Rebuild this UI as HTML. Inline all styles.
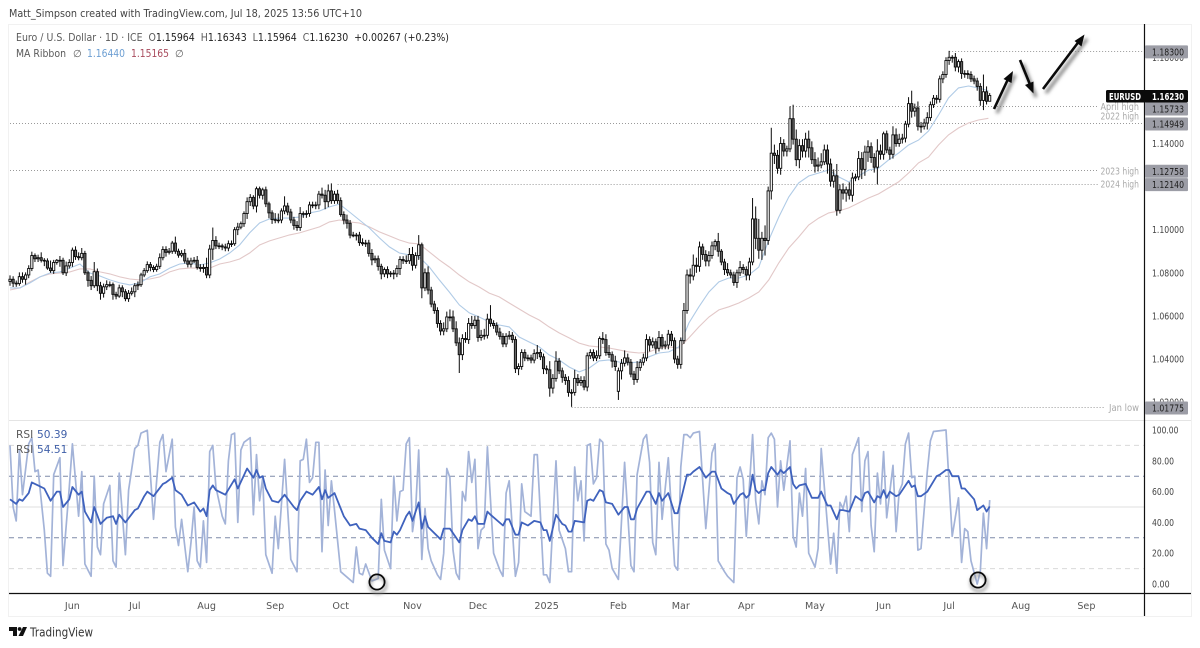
<!DOCTYPE html>
<html lang="en">
<head>
<meta charset="utf-8">
<title>EURUSD daily chart</title>
<style>
html,body{margin:0;padding:0;background:#fff;width:1200px;height:648px;overflow:hidden}
svg{display:block;filter:blur(.3px)}
text{font-family:"DejaVu Sans","Liberation Sans",sans-serif}
</style>
</head>
<body>
<svg id="chart" xmlns="http://www.w3.org/2000/svg" width="1200" height="648" viewBox="0 0 1200 648">
<defs>
<filter id="soft" x="-40%" y="-40%" width="180%" height="180%"><feGaussianBlur stdDeviation="1.8"/></filter>
</defs>
<text x="9" y="17" font-size="11" fill="#444" textLength="353" lengthAdjust="spacingAndGlyphs">Matt_Simpson created with TradingView.com, Jul 18, 2025 13:56 UTC+10</text>
<rect x="8.5" y="24.5" width="1183" height="592" fill="#fff" stroke="#f1f1f1"/>
<g id="rsi-grid"></g>
<g id="levels"></g>
<g id="ma"></g>
<g id="candles"></g>
<g id="rsi"></g>
<line x1="9" x2="1191" y1="420.5" y2="420.5" stroke="#e4e4e4"/>
<line x1="9" x2="1191" y1="593.5" y2="593.5" stroke="#111" stroke-width="1.2"/>
<line x1="1144.5" x2="1144.5" y1="24" y2="616" stroke="#111" stroke-width="1.2"/>
<g id="ticks"></g>
<g id="boxes"></g>
<g>
<rect x="1106" y="90" width="82" height="12.5" rx="1.5" fill="#0b0b0b"/>
<text x="1109" y="100" font-size="10" font-weight="bold" fill="#fff" textLength="32" lengthAdjust="spacingAndGlyphs">EURUSD</text>
<text x="1152" y="100" font-size="10" font-weight="bold" fill="#fff" textLength="32" lengthAdjust="spacingAndGlyphs">1.16230</text>
</g>
<g font-size="9.6" fill="#a9a9a9">
<text x="1100.5" y="110" textLength="38.5" lengthAdjust="spacingAndGlyphs">April high</text>
<text x="1100.5" y="119.5" textLength="38.5" lengthAdjust="spacingAndGlyphs">2022 high</text>
<text x="1100.5" y="174.5" textLength="38.5" lengthAdjust="spacingAndGlyphs">2023 high</text>
<text x="1100.5" y="187.5" textLength="38.5" lengthAdjust="spacingAndGlyphs">2024 high</text>
<text x="1109" y="411" textLength="30" lengthAdjust="spacingAndGlyphs">Jan low</text>
</g>
<g>
<text x="16" y="41" font-size="10.6" fill="#5a5a5a" textLength="433" lengthAdjust="spacingAndGlyphs" xml:space="preserve">Euro / U.S. Dollar · 1D · ICE  O<tspan fill="#222">1.15964</tspan>  H<tspan fill="#222">1.16343</tspan>  L<tspan fill="#222">1.15964</tspan>  C<tspan fill="#222">1.16230</tspan>  <tspan fill="#222">+0.00267 (+0.23%)</tspan></text>
<text x="16" y="57" font-size="10.6" fill="#5a5a5a" textLength="50" lengthAdjust="spacingAndGlyphs">MA Ribbon</text>
<text x="73" y="57" font-size="10" fill="#5a5a5a">∅</text>
<text x="87" y="57" font-size="10.6" fill="#6d9fd3" textLength="38" lengthAdjust="spacingAndGlyphs">1.16440</text>
<text x="131" y="57" font-size="10.6" fill="#a84a5c" textLength="38" lengthAdjust="spacingAndGlyphs">1.15165</text>
<text x="175" y="57" font-size="10" fill="#5a5a5a">∅</text>
</g>
<g>
<text x="16" y="438" font-size="10.6" fill="#5a5a5a">RSI</text>
<text x="37" y="438" font-size="10.6" fill="#3f5fa8">50.39</text>
<text x="16" y="453" font-size="10.6" fill="#5a5a5a">RSI</text>
<text x="37" y="453" font-size="10.6" fill="#3f5fa8">54.51</text>
</g>
<g>
<g filter="url(#soft)" transform="translate(3,4)" fill="none" stroke="#777" stroke-width="3">
<path d="M994 109L1012 71"/>
<path d="M1020 60L1033 93"/>
<path d="M1043 89L1084 35"/>
</g>
<path d="M994 109L1009 77" fill="none" stroke="#0a0a0a" stroke-width="2.6"/>
<path d="M1013 71L1011.5 83L1003.5 79Z" fill="#0a0a0a"/>
<path d="M1020 60L1031 87" fill="none" stroke="#0a0a0a" stroke-width="2.6"/>
<path d="M1033.5 93.5L1025 85L1033.5 81.5Z" fill="#0a0a0a"/>
<path d="M1043 89L1080 40" fill="none" stroke="#0a0a0a" stroke-width="2.6"/>
<path d="M1084.5 34.5L1081.5 46.5L1074.5 41Z" fill="#0a0a0a"/>
</g>
<g>
<circle cx="378" cy="585" r="8" fill="none" stroke="#888" stroke-width="2" filter="url(#soft)"/>
<circle cx="979" cy="583" r="8" fill="none" stroke="#888" stroke-width="2" filter="url(#soft)"/>
<circle cx="377" cy="582" r="7.6" fill="none" stroke="#0a0a0a" stroke-width="1.8"/>
<circle cx="978" cy="580" r="7.6" fill="none" stroke="#0a0a0a" stroke-width="1.8"/>
</g>
<g fill="#111">
<path d="M9 627H17V636H13V631H9Z"/>
<circle cx="19.6" cy="629" r="1.9"/>
<path d="M23 627H27L23 636H18.5Z"/>
<text x="30" y="636.5" font-size="12.5" fill="#333" textLength="63" lengthAdjust="spacingAndGlyphs">TradingView</text>
</g>
</svg>
<script>
// ---- Daily EURUSD closes, one block per month ----
const firstOpen = 1.0760;
const gapOpens = {195: 1.0250};
const closes = [
1.0770,1.0752,1.0750,1.0782,1.0770,1.0790,1.0820,1.0880,1.0865,1.0870,1.0858,1.0855,1.0822,1.0810,1.0848,1.0858,1.0858,1.0800,1.0832,1.0848,
1.0905,1.0875,1.0870,1.0890,1.0800,1.0765,1.0740,1.0805,1.0740,1.0705,1.0735,1.0745,1.0745,1.0700,1.0692,1.0730,1.0712,1.0680,1.0705,1.0712,
1.0740,1.0745,1.0790,1.0810,1.0838,1.0825,1.0815,1.0830,1.0870,1.0908,1.0895,1.0900,1.0938,1.0900,1.0882,1.0890,1.0855,1.0840,1.0855,1.0858,1.0825,1.0820,1.0825,
1.0790,1.0910,1.0950,1.0925,1.0925,1.0920,1.0915,1.0935,1.0935,1.1000,1.1012,1.1028,1.1075,1.1130,1.1150,1.1110,1.1190,1.1160,1.1185,1.1120,1.1078,1.1047,
1.1045,1.1045,1.1087,1.1110,1.1082,1.1045,1.1020,1.1010,1.1075,1.1075,1.1075,1.1115,1.1115,1.1115,1.1165,1.1160,1.1130,1.1180,1.1135,1.1165,1.1135,
1.1070,1.1045,1.1030,1.0975,1.0975,1.0975,1.0940,1.0935,1.0938,1.0890,1.0860,1.0865,1.0830,1.0795,1.0815,1.0795,1.0798,1.0795,1.0820,1.0862,1.0856,1.0856,1.0885,
1.0835,1.0880,1.0930,1.0730,1.0800,1.0720,1.0655,1.0625,1.0565,1.0530,1.0540,1.0595,1.0595,1.0540,1.0475,1.0420,1.0495,1.0490,1.0565,1.0555,1.0580,
1.0500,1.0510,1.0510,1.0585,1.0565,1.0555,1.0525,1.0505,1.0470,1.0505,1.0510,1.0490,1.0355,1.0365,1.0430,1.0405,1.0405,1.0395,1.0425,1.0430,1.0410,1.0355,
1.0350,1.0265,1.0310,1.0390,1.0345,1.0315,1.0300,1.0245,1.0245,1.0310,1.0290,1.0300,1.0270,1.0415,1.0430,1.0405,1.0415,1.0495,1.0490,1.0430,1.0420,1.0390,1.0365,
1.0345,1.0380,1.0405,1.0385,1.0330,1.0305,1.0360,1.0385,1.0405,1.0490,1.0465,1.0480,1.0450,1.0500,1.0460,1.0465,1.0515,1.0485,1.0400,1.0375,
1.0485,1.0625,1.0790,1.0785,1.0835,1.0830,1.0920,1.0885,1.0855,1.0880,1.0925,1.0945,1.0900,1.0850,1.0815,1.0800,1.0790,1.0755,1.0800,1.0825,1.0815,
1.0790,1.0850,1.1050,1.0960,1.0905,1.0960,1.0950,1.1180,1.1355,1.1345,1.1285,1.1400,1.1365,1.1375,1.1515,1.1420,1.1325,1.1390,1.1365,1.1420,1.1380,1.1325,
1.1295,1.1300,1.1315,1.1370,1.1305,1.1225,1.1250,1.1090,1.1185,1.1170,1.1185,1.1160,1.1240,1.1245,1.1330,1.1280,1.1360,1.1385,1.1335,1.1290,1.1365,1.1350,
1.1445,1.1370,1.1350,1.1440,1.1400,1.1420,1.1425,1.1490,1.1585,1.1550,1.1565,1.1480,1.1480,1.1495,1.1520,1.1580,1.1610,1.1605,1.1700,1.1720,1.1785,
1.1800,1.1800,1.1755,1.1780,1.1725,1.1725,1.1720,1.1700,1.1690,1.1665,1.1600,1.1640,1.1596,1.1623
];
// Upper and lower wick lengths in pips, measured from the candle body
const upperWicks = [
18,14,12,20,20,12,15,18,10,14,25,10,12,35,12,6,20,12,20,15,
12,18,20,25,12,10,20,45,15,18,15,20,15,10,12,15,12,12,15,20,
12,15,10,12,15,12,10,12,20,15,15,15,10,30,12,15,20,15,15,15,20,15,15,
45,20,60,20,15,10,15,15,15,12,20,10,10,20,15,10,10,10,10,15,10,12,
30,30,12,45,15,15,15,20,30,10,15,15,15,15,15,30,25,30,35,15,20,
15,15,25,15,15,10,15,20,15,15,20,15,15,12,10,15,10,15,15,15,15,25,30,
35,15,45,10,20,30,15,15,15,15,30,25,35,30,35,25,20,30,25,35,20,
20,25,30,25,65,15,15,20,15,15,20,15,15,15,15,15,15,15,20,35,15,15,
15,40,20,46,15,15,15,20,15,40,20,20,20,15,15,15,25,10,30,25,35,15,25,
15,20,35,20,15,15,30,15,20,25,15,20,15,30,15,20,20,15,15,15,
15,35,25,30,50,35,25,15,20,20,20,10,40,10,15,30,15,15,15,30,15,
15,20,97,58,90,30,60,20,118,40,25,30,20,15,57,65,45,30,30,30,40,30,
35,35,40,25,25,25,30,55,25,30,15,35,25,15,35,30,30,30,20,20,55,30,
10,15,15,40,30,25,20,15,30,60,20,30,20,20,25,15,15,15,15,15,15,
30,10,20,10,15,15,15,15,15,15,15,80,25,11
];
const lowerWicks = [
20,18,15,10,16,25,15,12,15,15,10,24,8,10,15,10,30,10,15,12,
20,15,12,12,10,30,20,10,25,30,20,15,12,25,15,8,25,12,15,10,
25,20,10,10,10,18,12,10,12,12,20,10,12,12,12,10,12,15,15,10,10,15,20,
15,15,50,15,15,15,15,15,15,10,25,10,15,25,20,15,30,15,20,15,25,20,
15,15,15,15,15,15,20,15,15,20,20,15,15,20,20,15,35,25,15,15,15,
10,20,25,15,10,25,15,10,15,15,25,15,20,25,15,20,15,25,15,30,15,15,15,
25,15,20,48,15,20,15,15,20,20,20,15,20,15,15,85,25,15,20,15,15,
20,15,20,15,15,15,15,15,15,15,15,15,20,30,15,15,15,15,15,25,15,25,
20,40,25,15,15,25,20,20,67,15,15,15,15,20,15,15,15,15,20,15,15,30,20,
40,40,15,15,15,25,15,15,15,15,30,15,25,15,15,15,20,25,20,20,
20,15,15,35,20,30,25,25,25,25,15,20,25,15,25,15,15,15,25,15,20,
25,25,15,50,40,45,70,20,40,40,25,30,25,25,15,25,30,40,30,30,45,20,
30,25,15,15,45,25,30,25,15,30,40,20,30,15,15,45,30,45,25,25,80,25,
25,15,25,20,15,15,20,20,15,30,25,20,30,15,30,15,15,20,15,20,15,
20,25,20,25,25,20,20,15,15,20,25,45,15,0
];
// Moving averages, one sample every 3.2 bars
const maSampleEvery = 3.2;
const maFast = [1.0730,1.0730,1.0753,1.0781,1.0799,1.0804,1.0822,1.0841,1.0799,1.0785,1.0767,1.0753,1.0744,1.0753,1.0781,1.0795,1.0822,1.0841,1.0846,1.0836,1.0846,1.0864,1.0892,1.0929,1.0985,1.1031,1.1050,1.1054,1.1054,1.1059,1.1078,1.1087,1.1106,1.1119,1.1082,1.1045,1.1008,1.0962,1.0920,1.0892,1.0883,1.0873,1.0827,1.0767,1.0711,1.0651,1.0614,1.0595,1.0572,1.0558,1.0549,1.0502,1.0479,1.0456,1.0419,1.0396,1.0363,1.0340,1.0358,1.0391,1.0396,1.0386,1.0382,1.0386,1.0410,1.0428,1.0433,1.0456,1.0567,1.0642,1.0711,1.0758,1.0776,1.0776,1.0790,1.0827,1.0952,1.1059,1.1152,1.1217,1.1249,1.1263,1.1277,1.1245,1.1222,1.1249,1.1277,1.1286,1.1324,1.1356,1.1393,1.1416,1.1458,1.1532,1.1611,1.1658,1.1667,1.1658,1.1644];
const maSlow = [1.0720,1.0730,1.0758,1.0781,1.0795,1.0799,1.0804,1.0818,1.0818,1.0804,1.0795,1.0781,1.0771,1.0767,1.0771,1.0781,1.0804,1.0818,1.0822,1.0822,1.0822,1.0841,1.0850,1.0864,1.0892,1.0929,1.0948,1.0962,1.0976,1.0985,1.0999,1.1013,1.1036,1.1045,1.1036,1.1031,1.1013,1.0990,1.0971,1.0952,1.0938,1.0934,1.0897,1.0860,1.0827,1.0790,1.0758,1.0734,1.0706,1.0688,1.0660,1.0632,1.0604,1.0581,1.0549,1.0521,1.0498,1.0474,1.0461,1.0456,1.0451,1.0442,1.0433,1.0428,1.0433,1.0451,1.0456,1.0451,1.0498,1.0549,1.0595,1.0628,1.0642,1.0660,1.0683,1.0711,1.0767,1.0846,1.0915,1.0966,1.1022,1.1054,1.1078,1.1087,1.1101,1.1124,1.1147,1.1166,1.1194,1.1222,1.1263,1.1310,1.1337,1.1393,1.1440,1.1472,1.1495,1.1509,1.1517];
// RSI turning points: bar number and value
const rsiFastBars = [0,1,2,3,4,6,7,8,9,11,12,13,14,16,17,19,20,22,23,24,26,27,28,29,30,32,33,34,35,37,38,40,41,42,44,46,48,49,50,52,53,54,55,57,58,59,60,61,62,63,64,65,66,68,69,70,71,72,73,74,75,77,78,79,80,81,82,84,85,86,88,90,92,93,94,95,96,97,98,99,100,101,102,103,104,106,110,111,112,113,114,116,118,119,120,122,123,124,125,126,127,128,129,130,131,132,133,134,135,137,138,139,140,141,142,143,144,145,146,147,148,149,150,151,152,153,155,157,158,159,160,162,163,164,165,167,168,169,171,172,173,175,176,178,179,180,181,182,183,184,185,186,187,188,189,190,191,192,193,195,197,199,200,201,203,204,205,206,207,208,209,211,213,214,215,216,217,218,219,221,223,225,226,227,229,230,232,233,234,235,236,238,239,240,241,242,243,244,245,246,247,248,250,251,252,253,254,255,256,258,259,260,263,264,265,266,267,268,269,270,272,273,274,275,276,277,278,279,280,281,283,284,285,286,287,288,289,290,291,292,294,295,296,300,302,304,305,306,307,308,310,311,312,313,314];
const rsiFastValues = [90,50,41,87,58,91,95,73,74,35,7,5,71,82,12,63,91,44,73,13,5,70,24,19,52,64,15,11,72,19,61,88,90,98,99.8,42,92,97,73,94,37,25,42,8,27,50,15,11,41,14,86,90,63,44,39,80,97,98,40,87,92,95,45,84,54,69,19,7,44,23,81,16,8,80,81,94,66,69,92,92,21,74,38,67,48,8,1,24,7,6,13,2,3.5,55,22,10,70,41,60,61,91,95,34,48,87,16,49,23,15,6,3,20,75,69,22,7,3,60,54,86,66,81,23,35,37,89,20,9,5,59,67,5,14,65,47,44,84,84,6,6,1,80,35,23,8,8,76,54,67,28,90,91,65,69,94,92,26,22,10,3,79,12,8,71,94,97,79,27,19,79,42,82,12,9,76,97,97,95,98,99,36,85,91,15,8,5,1,69,76,68,31,97,54,39,67,58,95,98,94,50,80,61,93,31,24,59,44,75,20,11,23,88,13,33,7,53,49,57,34,84,95,47,80,86,38,21,72,52,86,43,77,34,60,65,91,98,69,70,22,23,73,93,99,100,31,56,14,36,34,15,0,8,46,23,54.51];
const rsiSlowBars = [0,2,3,4,6,7,9,11,13,15,16,17,19,20,22,23,24,26,27,29,31,33,34,35,37,40,41,43,44,46,49,50,52,53,55,57,59,61,62,63,64,65,66,69,72,73,76,78,79,80,81,82,84,86,88,91,92,93,95,97,99,100,101,102,104,106,107,109,111,112,114,116,118,119,120,122,123,124,125,127,128,129,131,132,133,134,138,139,141,144,145,147,148,149,150,152,153,154,158,159,160,162,163,164,166,168,170,171,172,173,175,177,178,179,180,181,184,185,186,187,189,190,191,193,195,197,198,199,200,201,204,205,207,208,209,211,213,214,217,218,219,221,223,225,226,228,230,231,232,234,235,236,237,238,239,240,241,242,243,244,246,247,248,250,251,252,253,255,257,259,260,262,263,265,266,267,269,271,273,274,275,277,278,279,280,281,282,284,285,288,289,290,291,292,294,297,298,300,301,302,304,305,306,309,310,312,313,314];
const rsiSlowValues = [55,52,55,54,59,66,64,62,54,60,60,50,55,63,58,60,47,40,50,39,43,44,39,45,40,48,49,57,60,57,65,66,69,61,58,51,53,47,49,44,61,64,61,58,68,62,75,69,74,69,70,62,54,53,58,50,48,54,60,58,63,55,61,56,59,49,44,38,39,36,35,30,26,33,28,27,34,32,35,44,47,41,53,36,44,37,29,36,36,27,35,42,41,44,39,39,47,45,38,42,42,32,32,40,38,41,40,35,35,28,45,39,38,34,34,41,40,54,55,54,61,60,53,52,45,50,50,42,42,49,60,60,52,59,54,59,46,46,71,71,73,76,69,73,73,62,59,58,52,58,59,56,58,71,61,59,61,61,72,76,71,74,72,76,65,62,64,65,56,56,60,51,51,42,48,48,47,57,54,59,60,53,57,56,61,56,60,57,58,67,63,64,57,57,60,70,71,74,74,70,70,62,62,55,48,51,47,50.39];
// Axis labels
const priceTicks = [1.18, 1.14, 1.12, 1.10, 1.08, 1.06, 1.04, 1.02];
const rsiTicks = [100, 80, 60, 40, 20, 0];
const rsiGuides = [90, 70, 50, 30, 10];
const monthLabels = ['Jun','Jul','Aug','Sep','Oct','Nov','Dec','2025','Feb','Mar','Apr','May','Jun','Jul','Aug','Sep'];
const monthBars = [20,40,63,85,106,129,150,172,195,215,236,258,280,301,324,345];
// Marked price levels: value, first bar of the dotted line, and whether it reaches the axis
const levelValues = [1.18300,1.15733,1.14949,1.12758,1.12140,1.01775];
const levelStartBars = [301,250,0,0,105,180];
const levelReachesAxis = [true,false,true,false,false,false];

const NS = 'http://www.w3.org/2000/svg';
const xScale = bar => 10 + 3.12 * bar;
const priceY = p => 143.5 + (1.14 - p) * 2155;
const rsiY = v => 584 - 1.54 * v;
const make = (parent, tag, attrs) => {
  const el = document.createElementNS(NS, tag);
  for (const k in attrs) el.setAttribute(k, attrs[k]);
  parent.appendChild(el);
  return el;
};
const $ = id => document.getElementById(id);

rsiGuides.forEach(v => {
  const strong = v === 70 || v === 30;
  const el = make($('rsi-grid'), 'line', {x1: 9, x2: 1144, y1: rsiY(v), y2: rsiY(v),
    stroke: v === 50 ? '#dfdfdf' : strong ? '#7f8aa8' : '#d9d9d9',
    'stroke-dasharray': v === 50 ? 'none' : '5 4'});
  
  
});

levelValues.forEach((p, i) => {
  const y = Math.round(priceY(p)) + 0.5;
  const el = make($('levels'), 'line', {x1: xScale(levelStartBars[i]), x2: levelReachesAxis[i] ? 1144 : (i === 5 ? 1105 : 1098), y1: y, y2: y,
    stroke: '#9a9a9a', 'stroke-dasharray': '1 2'});
  
  
});

const maPath = arr => arr.map((p, k) => (k ? 'L' : 'M') + xScale(k * maSampleEvery).toFixed(1) + ' ' + priceY(p).toFixed(1)).join('');
const slowLine = make($('ma'), 'path', {d: maPath(maSlow), fill: 'none', stroke: '#e2c8c8', 'stroke-width': 1.1});


const fastLine = make($('ma'), 'path', {d: maPath(maFast), fill: 'none', stroke: '#b0cbe6', 'stroke-width': 1.1});



closes.forEach((c, i) => {
  const o = gapOpens[i] !== undefined ? gapOpens[i] : (i ? closes[i - 1] : firstOpen);
  const hi = Math.max(o, c) + upperWicks[i] / 10000;
  const lo = Math.min(o, c) - lowerWicks[i] / 10000;
  const x = xScale(i);
  const wick = make($('candles'), 'line', {x1: x, x2: x, y1: priceY(hi), y2: priceY(lo), stroke: '#0a0a0a', 'stroke-width': 1});
  
  
  const top = priceY(Math.max(o, c));
  const h = Math.max(priceY(Math.min(o, c)) - top, 0.8);
  const body = make($('candles'), 'rect', {x: x - 1.1, y: top, width: 2.2, height: h, fill: c >= o ? '#fff' : '#666', stroke: '#0a0a0a', 'stroke-width': 0.9});
  
  
});

const rsiPath = (bars, vals) => bars.map((b, k) => (k ? 'L' : 'M') + xScale(b).toFixed(1) + ' ' + rsiY(vals[k]).toFixed(1)).join('');
const rsiFastLine = make($('rsi'), 'path', {d: rsiPath(rsiFastBars, rsiFastValues), fill: 'none', stroke: '#a3b3d8', 'stroke-width': 1.7, 'stroke-linejoin': 'round'});


const rsiSlowLine = make($('rsi'), 'path', {d: rsiPath(rsiSlowBars, rsiSlowValues), fill: 'none', stroke: '#3f62bd', 'stroke-width': 1.8, 'stroke-linejoin': 'round'});



priceTicks.forEach(p => {
  const t = make($('ticks'), 'text', {x: 1152, y: priceY(p) + 3.5, 'font-size': 10, fill: '#444', textLength: 32, lengthAdjust: 'spacingAndGlyphs'});
  t.textContent = p.toFixed(5);
  
  
});
rsiTicks.forEach(v => {
  const label = v.toFixed(2);
  const t = make($('ticks'), 'text', {x: 1152, y: rsiY(v) + 3.5, 'font-size': 10, fill: '#444', textLength: label.length * 4.4, lengthAdjust: 'spacingAndGlyphs'});
  t.textContent = label;
  
  
});
monthLabels.forEach((label, i) => {
  const t = make($('ticks'), 'text', {x: xScale(monthBars[i]), y: 609, 'font-size': 9.6, fill: '#555', 'text-anchor': 'middle'});
  t.textContent = label;
  
  
});
// Price boxes slide down to stay clear of the current-price box and of each other
let lastBoxBottom = 0;
levelValues.forEach(p => {
  const wanted = priceY(p) + 1;
  const floor = p < 1.1623 && lastBoxBottom < 102.5 ? 102.5 : lastBoxBottom;
  const y = Math.max(wanted, floor + 6.5);
  lastBoxBottom = y + 6.5;
  const box = make($('boxes'), 'rect', {x: 1145, y: y - 6.5, width: 43, height: 13, rx: 1, fill: '#9c9da6'});
  
  
  const t = make($('boxes'), 'text', {x: 1152, y: y + 3.5, 'font-size': 10, fill: '#1c1c1c', textLength: 32, lengthAdjust: 'spacingAndGlyphs'});
  t.textContent = p.toFixed(5);
  
  
});
</script>
</body>
</html>
